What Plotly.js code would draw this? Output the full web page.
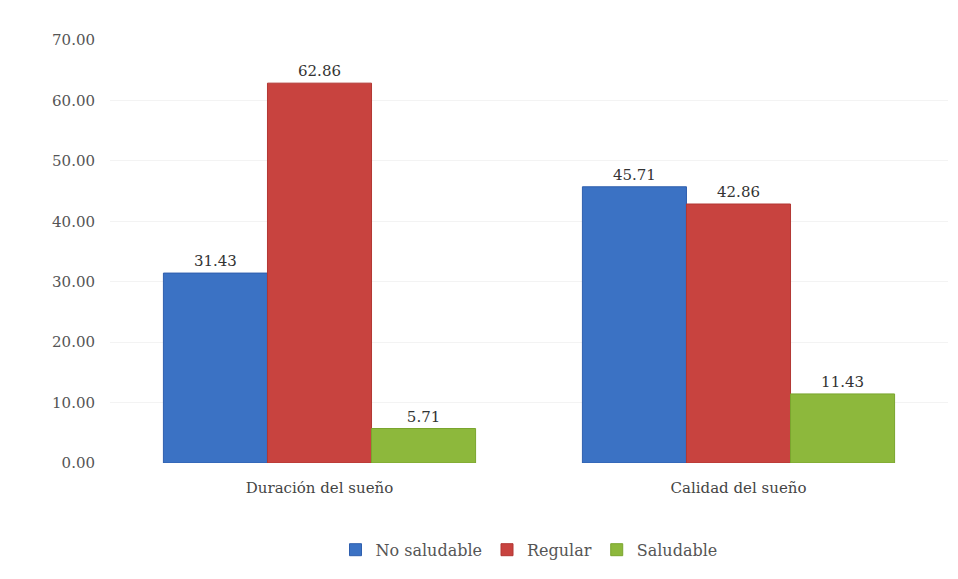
<!DOCTYPE html>
<html><head><meta charset="utf-8">
<script src="https://cdn.plot.ly/plotly-3.0.1.min.js"></script>
<style>html,body{margin:0;padding:0;background:#fff;}</style>
</head><body>
<div id="chart" style="width:958px;height:579px;"></div>
<script>
var categories = ["Duración del sueño", "Calidad del sueño"];
var seriesNames = ["No saludable", "Regular", "Saludable"];
var noSaludable = [31.43, 45.71];
var regular = [62.86, 42.86];
var saludable = [5.71, 11.43];
var tickVals = [0, 10, 20, 30, 40, 50, 60, 70];
var tickText = ["0.00", "10.00", "20.00", "30.00", "40.00", "50.00", "60.00", "70.00"];

var colors = ["#3b72c4", "#c8433f", "#8db83c"];
var lineColors = ["#2f5fae", "#b23733", "#7aa52e"];
var values = [noSaludable, regular, saludable];
var font = "'DejaVu Serif', 'Liberation Serif', serif";

var traces = values.map(function(v, i){
  return {
    type: "bar", name: seriesNames[i], x: categories, y: v,
    marker: {color: colors[i], line: {color: lineColors[i], width: 1}},
    text: v.map(function(n){return n.toFixed(2);}),
    textposition: "outside", cliponaxis: false,
    textfont: {family: font, size: 15, color: "#333"}
  };
});

var layout = {
  width: 958, height: 579,
  margin: {l: 110, r: 10, t: 40, b: 116},
  paper_bgcolor: "#fff", plot_bgcolor: "#fff",
  barmode: "group", bargap: 0.255, bargroupgap: 0,
  font: {family: font, size: 15, color: "#555"},
  xaxis: {showgrid: false, zeroline: false, showline: false, ticks: "",
          ticklabelstandoff: 14,
          tickfont: {family: font, size: 15, color: "#444"}},
  yaxis: {range: [0, 70], tickvals: tickVals, ticktext: tickText,
          showgrid: true, gridcolor: "#f3f3f3", zeroline: false,
          ticks: "", ticklabelstandoff: 14,
          tickfont: {family: font, size: 15, color: "#555"}},
  legend: {orientation: "h", x: 0.5, xanchor: "center", xref: "paper",
           y: -0.165, yanchor: "top", font: {family: font, size: 16, color: "#555"},
           itemwidth: 30, traceorder: "normal"},
  showlegend: true
};
Plotly.newPlot("chart", traces, layout, {displayModeBar: false});
</script>
</body></html>
